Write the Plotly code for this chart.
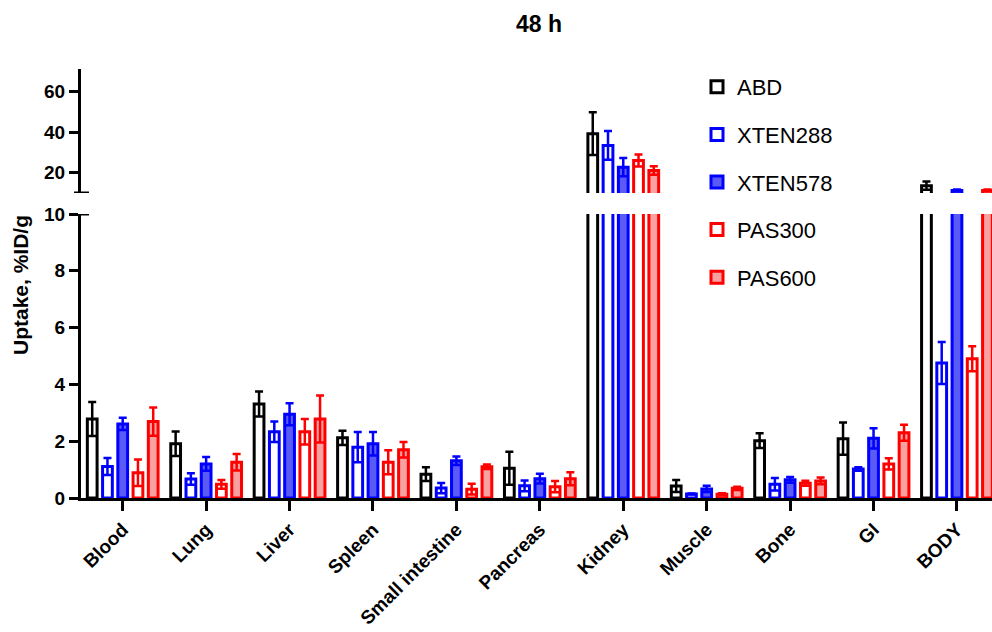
import plotly.graph_objects as go

categories = ["Blood", "Lung", "Liver", "Spleen", "Small intestine", "Pancreas",
              "Kidney", "Muscle", "Bone", "GI", "BODY"]

abd = [2.78, 1.91, 3.31, 2.12, 0.84, 1.05, 39.2, 0.42, 2.02, 2.09, 13.6]
abd_err = [0.60, 0.43, 0.44, 0.25, 0.24, 0.58, 10.5, 0.21, 0.26, 0.57, 2.0]
xten288 = [1.11, 0.67, 2.33, 1.79, 0.35, 0.43, 33.4, 0.14, 0.48, 1.02, 4.75]
xten288_err = [0.30, 0.20, 0.36, 0.53, 0.18, 0.19, 7.1, 0.02, 0.22, 0.06, 0.74]
xten578 = [2.61, 1.20, 2.95, 1.91, 1.31, 0.68, 22.7, 0.32, 0.64, 2.10, 11.2]
xten578_err = [0.22, 0.24, 0.39, 0.41, 0.15, 0.17, 4.5, 0.11, 0.10, 0.36, 0.5]
pas300 = [0.89, 0.48, 2.33, 1.26, 0.31, 0.40, 26.0, 0.13, 0.52, 1.20, 4.9]
pas300_err = [0.47, 0.15, 0.45, 0.42, 0.19, 0.20, 3.0, 0.04, 0.09, 0.20, 0.44]
pas600 = [2.69, 1.26, 2.78, 1.70, 1.10, 0.68, 21.1, 0.34, 0.60, 2.30, 11.2]
pas600_err = [0.50, 0.29, 0.83, 0.27, 0.08, 0.23, 2.1, 0.06, 0.12, 0.28, 0.5]

series_names = ["ABD", "XTEN288", "XTEN578", "PAS300", "PAS600"]
series_values = [abd, xten288, xten578, pas300, pas600]
series_errors = [abd_err, xten288_err, xten578_err, pas300_err, pas600_err]
line_colors = ["#000000", "#0000ff", "#0000ff", "#ff0000", "#ff0000"]
fill_colors = ["#ffffff", "#ffffff", "#5a5af5", "#ffffff", "#f9a0a0"]

lower_ticks = [0, 2, 4, 6, 8, 10]
upper_ticks = [20, 40, 60]

FONT = "Liberation Sans, Arial, sans-serif"

fig = go.Figure()
for axis, show in (("y", True), ("y2", False)):
    for name, vals, errs, lc, fc in zip(series_names, series_values, series_errors,
                                         line_colors, fill_colors):
        fig.add_trace(go.Bar(
            x=categories, y=vals, name=name, yaxis=axis, xaxis="x",
            legendgroup=name, showlegend=show,
            marker=dict(color=fc, line=dict(color=lc, width=3)),
            error_y=dict(type="data", array=errs, symmetric=True,
                         color=lc, thickness=2.5, width=4),
        ))

PL, PR_, PT, PB = 81, 992, 69, 498
H = PB - PT
W = PR_ - PL

fig.update_layout(
    width=992, height=632,
    margin=dict(l=PL, r=0, t=PT, b=632 - PB),
    paper_bgcolor="white", plot_bgcolor="white",
    barmode="group", bargap=0.086, bargroupgap=0.36,
    font=dict(family=FONT, color="black"),
    title=dict(text="<b>48 h</b>", x=539 / 992, xanchor="center",
               y=1 - 24 / 632, yanchor="middle", yref="container",
               font=dict(size=23, family=FONT, color="black")),
    xaxis=dict(
        range=[-0.5, 10.42], domain=[0, 1], anchor="y", automargin=False,
        showline=True, linecolor="black", linewidth=3,
        ticks="outside", ticklen=10, tickwidth=3, tickcolor="black",
        tickangle=-45, showgrid=False, zeroline=False,
        tickfont=dict(size=19, family=FONT, color="black", weight="bold"),
    ),
    yaxis=dict(
        range=[0, 10], domain=[0, (PB - 214) / H], anchor="x", automargin=False,
        tickvals=lower_ticks,
        showline=True, linecolor="black", linewidth=3,
        ticks="outside", ticklen=9, tickwidth=3, tickcolor="black",
        showgrid=False, zeroline=False,
        tickfont=dict(size=19, family=FONT, color="black", weight="bold"),
    ),
    yaxis2=dict(
        range=[10, 71], domain=[(PB - 193) / H, 1], anchor="x", automargin=False,
        tickvals=upper_ticks,
        showline=True, linecolor="black", linewidth=3,
        ticks="outside", ticklen=9, tickwidth=3, tickcolor="black",
        showgrid=False, zeroline=False,
        tickfont=dict(size=19, family=FONT, color="black", weight="bold"),
    ),
    legend=dict(
        x=(697 - PL) / W, y=(PB - 66) / H, xanchor="left", yanchor="top",
        font=dict(size=22, family=FONT, color="black"),
        tracegroupgap=16, bgcolor="rgba(0,0,0,0)",
    ),
    annotations=[dict(
        text="<b>Uptake, %ID/g</b>", textangle=-90,
        x=(20 - PL) / W, y=(PB - 285) / H, xref="paper", yref="paper",
        xanchor="center", yanchor="middle", showarrow=False,
        font=dict(size=21, family=FONT, color="black"),
    )],
    shapes=[
        dict(type="line", xref="paper", yref="y2",
             x0=(74 - PL) / W, x1=(89 - PL) / W, y0=10, y1=10,
             line=dict(color="black", width=3)),
        dict(type="line", xref="paper", yref="y",
             x0=(73 - PL) / W, x1=(89 - PL) / W, y0=10, y1=10,
             line=dict(color="black", width=3)),
    ],
)

fig.write_html("out.html")
